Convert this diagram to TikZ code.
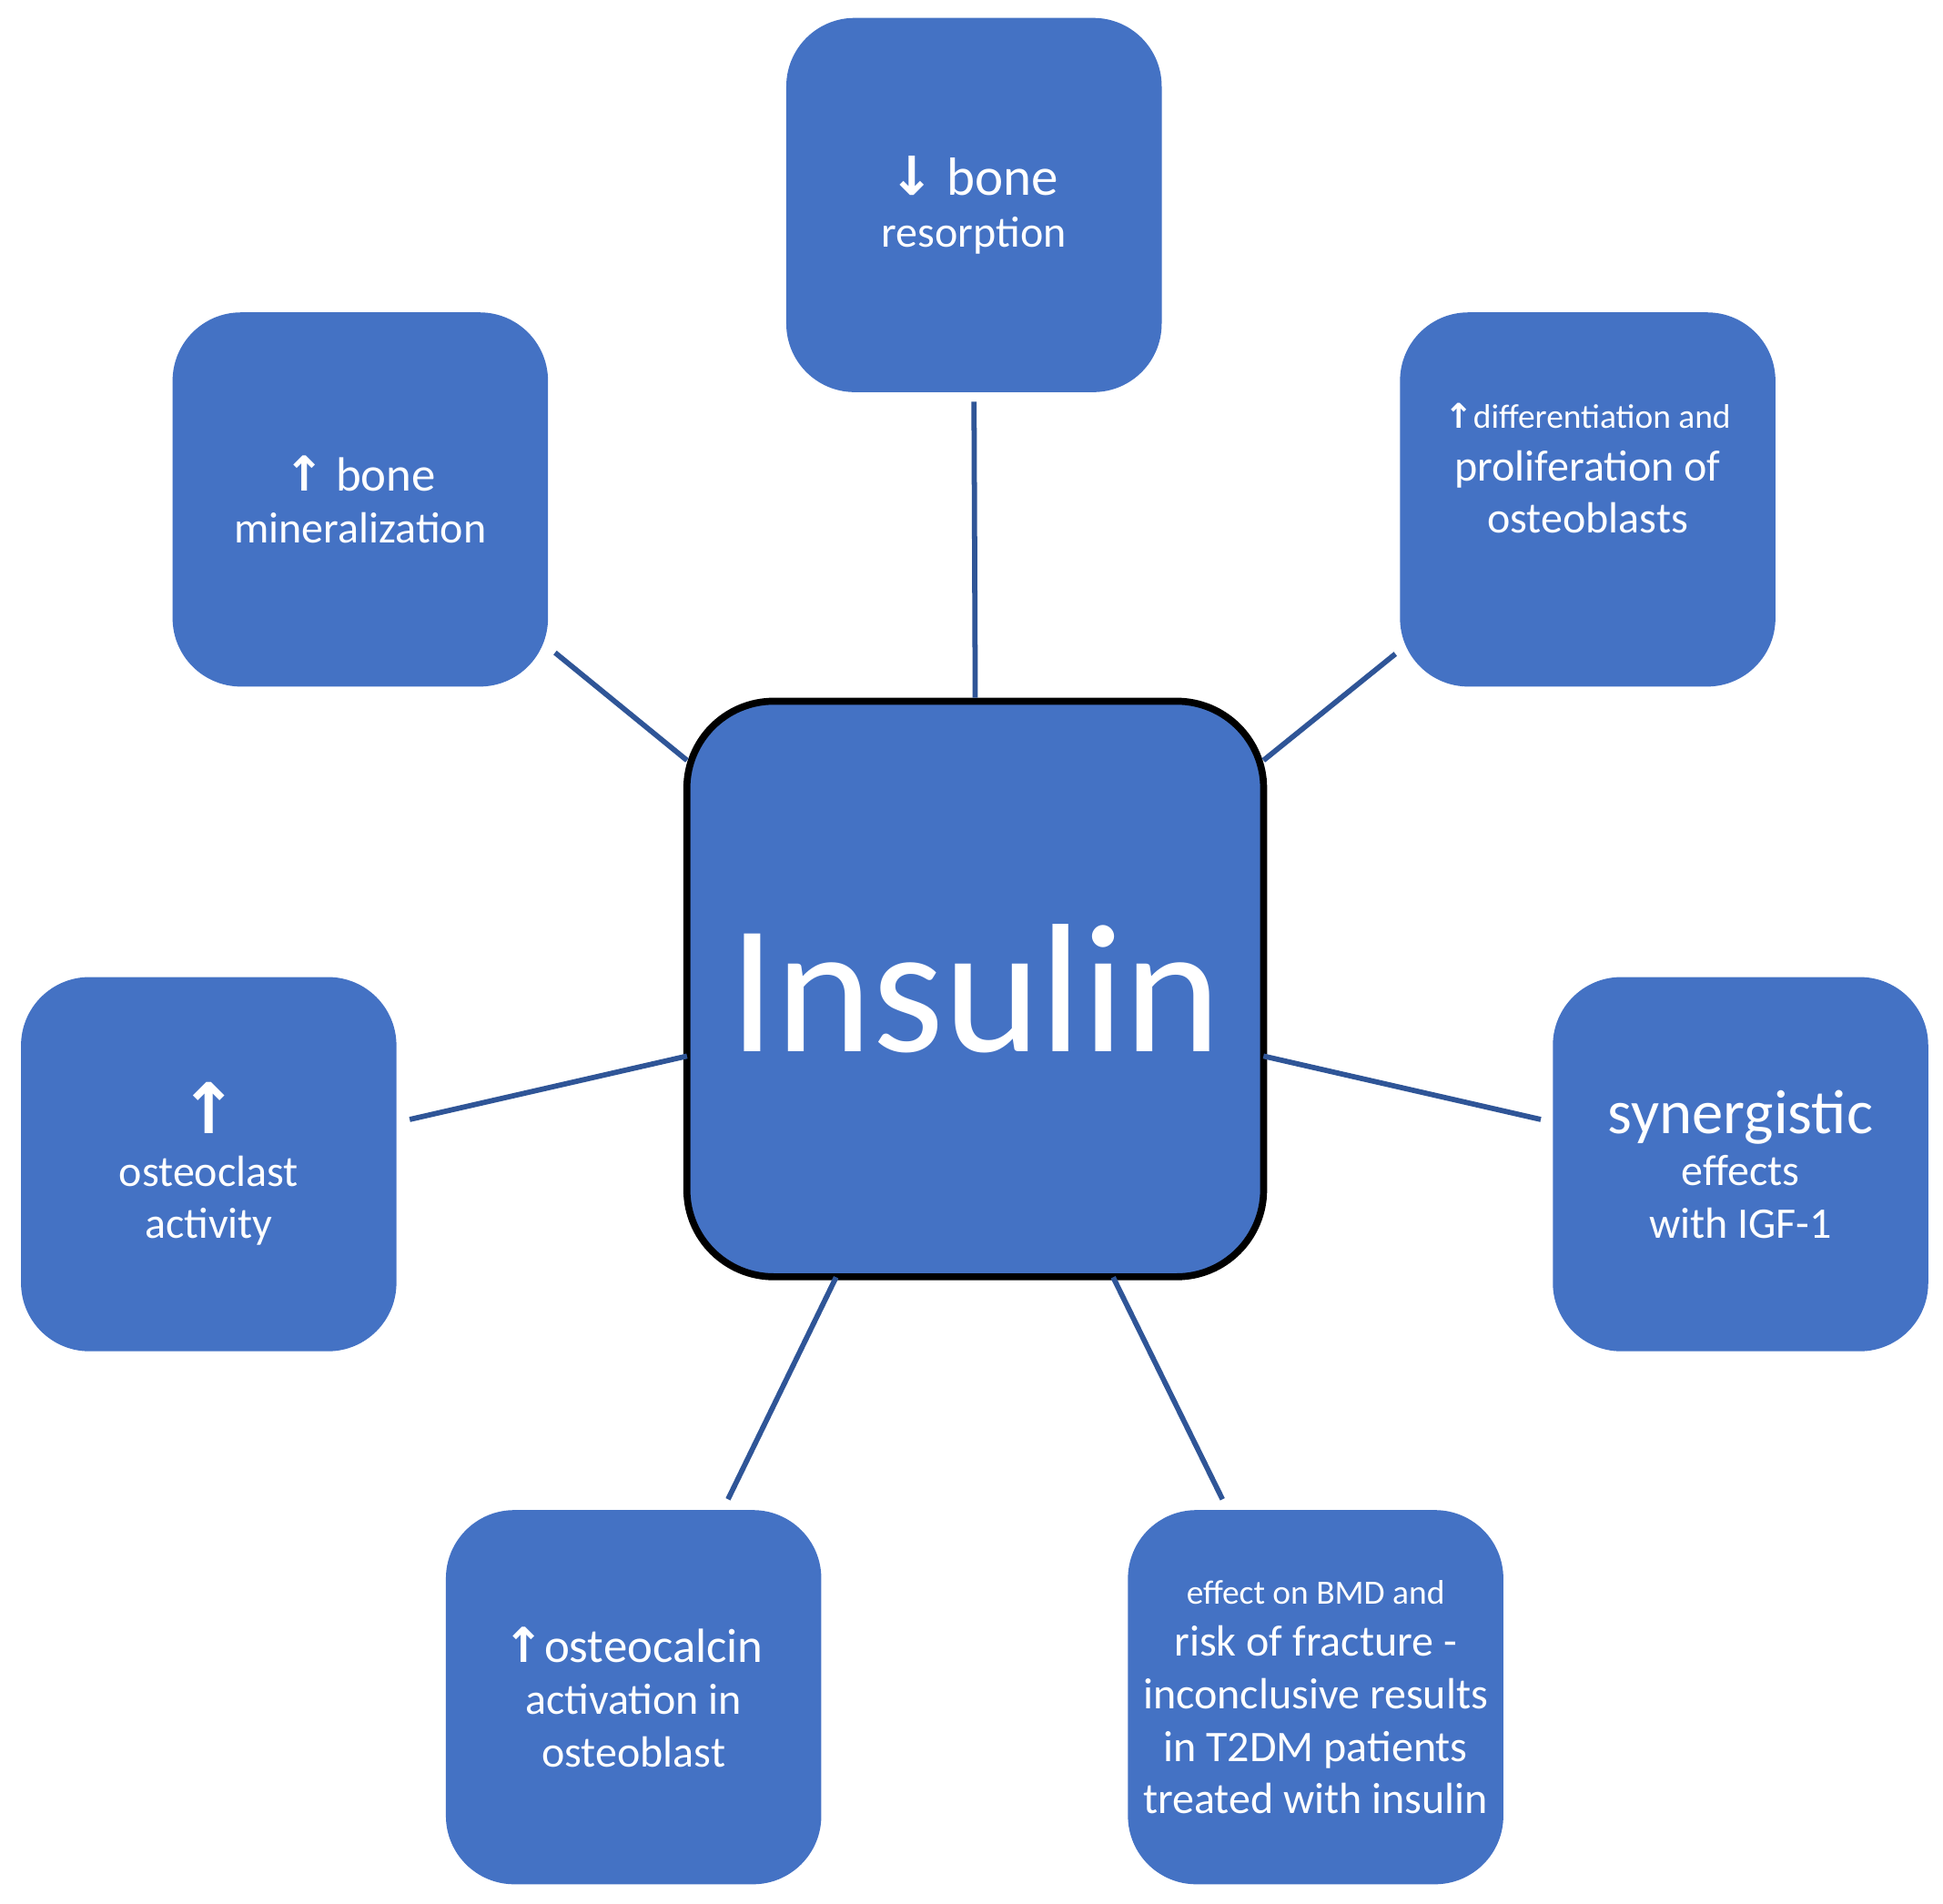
\documentclass[tikz,border=0pt]{standalone}
\usepackage{fontspec}
\setmainfont{Carlito}
\newfontfamily\arr{DejaVu Sans}
\newcommand{\UA}{{\arr\bfseries\char"2191}}
\newcommand{\DA}{{\arr\bfseries\char"2193}}
\begin{document}
\begin{tikzpicture}[x=0.01cm,y=-0.01cm,
 box/.style={fill=boxblue,rounded corners=0.55cm,minimum width=3.02cm,minimum height=3.01cm,text=white,align=center,inner sep=0pt},
 conn/.style={draw=lineblue,line width=1.2pt}]
\definecolor{boxblue}{HTML}{4472C4}
\definecolor{lineblue}{HTML}{2F5597}
\useasboundingbox (0,0) rectangle (1564,1532);
\node[box,draw=black,line width=1.6pt,minimum width=4.64cm,minimum height=4.63cm,rounded corners=0.7cm] (c) at (785,796) {\fontsize{42}{50}\selectfont Insulin};
\node[box] (t) at (784,165) {\fontsize{12.3}{15}\selectfont \DA\ bone\\resorption};
\node[box] (ul) at (290,402) {\fontsize{11}{13.4}\selectfont \UA\ bone\\mineralization};
\node[box,text depth=0.5cm] (ur) at (1278,402) {\fontsize{7.8}{9.5}\selectfont \UA differentiation and\\proliferation of\\osteoblasts};
\node[box] (l) at (168,937) {\fontsize{16}{19.3}\selectfont \UA\\osteoclast\\activity};
\node[box] (r) at (1401,937) {\fontsize{14.3}{17}\selectfont synergistic\\effects\\with IGF-1};
\node[box] (bl) at (510,1366) {\fontsize{11}{13.4}\selectfont \UA osteocalcin\\activation in\\osteoblast};
\node[box] (br) at (1059,1366) {\fontsize{7.8}{9.5}\selectfont effect on BMD and\\risk of fracture -\\inconclusive results\\in T2DM patients\\treated with insulin};
\draw[conn] (t.south)++(0,7) coordinate (t1) -- (c.north);
\draw[conn] (ul.south east)++(5,-28) coordinate (u1) -- (553,612);
\draw[conn] (ur.south west)++(-3,-27) coordinate (u2) -- (1017,612);
\draw[conn] (l.east)++(10,-36) coordinate (l1) -- (553,850);
\draw[conn] (r.west)++(-9,-36) coordinate (r1) -- (1017,850);
\draw[conn] (bl.north)++(76,-8) coordinate (b1) -- (673,1028);
\draw[conn] (br.north)++(-75,-8) coordinate (b2) -- (896,1028);
\end{tikzpicture}
\end{document}
